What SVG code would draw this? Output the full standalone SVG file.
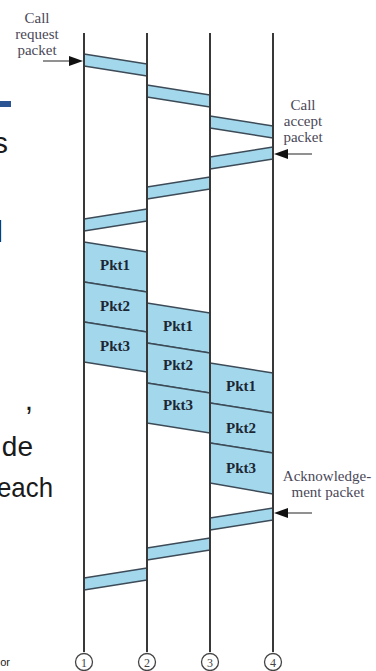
<svg xmlns="http://www.w3.org/2000/svg" width="376" height="671" viewBox="0 0 376 671">
<style>
.band{fill:#a3d8ec;stroke:#3c4b57;stroke-width:1.4;stroke-linejoin:round}
.life{stroke:#383838;stroke-width:2;fill:none}
.pkt{font-family:"Liberation Serif",serif;font-weight:bold;font-size:15px;fill:#1c2733;text-anchor:middle}
.lbl{font-family:"Liberation Serif",serif;font-size:15px;fill:#4a4858;text-anchor:middle}
.num{font-family:"Liberation Serif",serif;font-size:12px;fill:#444;text-anchor:middle}
.circ{fill:#fff;stroke:#444;stroke-width:1.3}
.arr{stroke:#555;stroke-width:1.3}
.slide{font-family:"Liberation Sans",sans-serif;fill:#1a1a1a}
</style>
<rect width="376" height="671" fill="#fff"/>
<g id="slide-text">
<rect x="0" y="101" width="11" height="6" fill="#2a5592"/>
<text class="slide" x="8" y="153" font-size="30" text-anchor="end">s</text>
<text class="slide" x="3" y="242" font-size="30" text-anchor="end">l</text>
<text class="slide" x="33" y="410" font-size="30" text-anchor="end">,</text>
<text class="slide" x="33" y="456" font-size="28" text-anchor="end">de</text>
<text class="slide" x="53" y="497" font-size="28" text-anchor="end" textLength="56" lengthAdjust="spacingAndGlyphs">each</text>
<text class="slide" x="10" y="666" font-size="11" text-anchor="end">or</text>
</g>
<g id="connectors">
<polygon class="band" points="84,54 147,64 147,76 84,66"/>
<polygon class="band" points="147,85 210,95 210,107 147,97"/>
<polygon class="band" points="210,116 273,126 273,138 210,128"/>
<polygon class="band" points="273,147 210,157 210,169 273,159"/>
<polygon class="band" points="210,177 147,187 147,199 210,189"/>
<polygon class="band" points="147,209 84,219 84,231 147,221"/>
<polygon class="band" points="84,242 147,252 147,292 84,282"/>
<polygon class="band" points="84,282 147,292 147,332 84,322"/>
<polygon class="band" points="84,322 147,332 147,372 84,362"/>
<polygon class="band" points="147,303 210,313 210,353 147,343"/>
<polygon class="band" points="147,343 210,353 210,393 147,383"/>
<polygon class="band" points="147,383 210,393 210,433 147,423"/>
<polygon class="band" points="210,363 273,373 273,413 210,403"/>
<polygon class="band" points="210,403 273,413 273,453 210,443"/>
<polygon class="band" points="210,443 273,453 273,494 210,483"/>
<polygon class="band" points="273,508 210,518 210,530 273,520"/>
<polygon class="band" points="210,538 147,548 147,560 210,550"/>
<polygon class="band" points="147,568 84,578 84,590 147,580"/>
<line class="arr" x1="43" y1="61" x2="72" y2="61"/>
<polygon points="83,61 69,56 69,66" fill="#111"/>
<line class="arr" x1="312" y1="154" x2="285" y2="154"/>
<polygon points="274,154 288,149 288,159" fill="#111"/>
<line class="arr" x1="312" y1="513" x2="285" y2="513"/>
<polygon points="274,513 288,508 288,518" fill="#111"/>
</g>
<g id="node1"><line class="life" x1="84" y1="33" x2="84" y2="652"/><circle class="circ" cx="84" cy="662" r="8.5"/><text class="num" x="84" y="666.5">1</text></g>
<g id="node2"><line class="life" x1="147" y1="33" x2="147" y2="652"/><circle class="circ" cx="147" cy="662" r="8.5"/><text class="num" x="147" y="666.5">2</text></g>
<g id="node3"><line class="life" x1="210" y1="33" x2="210" y2="652"/><circle class="circ" cx="210" cy="662" r="8.5"/><text class="num" x="210" y="666.5">3</text></g>
<g id="node4"><line class="life" x1="273" y1="33" x2="273" y2="652"/><circle class="circ" cx="273" cy="662" r="8.5"/><text class="num" x="273" y="666.5">4</text></g>
<g id="packets">
<text class="pkt" x="115" y="270">Pkt1</text>
<text class="pkt" x="115" y="311">Pkt2</text>
<text class="pkt" x="115" y="351">Pkt3</text>
<text class="pkt" x="178" y="331">Pkt1</text>
<text class="pkt" x="178" y="370">Pkt2</text>
<text class="pkt" x="178" y="410">Pkt3</text>
<text class="pkt" x="241" y="391">Pkt1</text>
<text class="pkt" x="241" y="433">Pkt2</text>
<text class="pkt" x="241" y="473">Pkt3</text>
</g>
<g id="label-request">
<text class="lbl" x="37" y="23">Call</text>
<text class="lbl" x="37" y="39">request</text>
<text class="lbl" x="37" y="55">packet</text>
</g>
<g id="label-accept">
<text class="lbl" x="303" y="110">Call</text>
<text class="lbl" x="303" y="126">accept</text>
<text class="lbl" x="303" y="142">packet</text>
</g>
<g id="label-ack">
<text class="lbl" x="327" y="481">Acknowledge-</text>
<text class="lbl" x="328" y="497">ment packet</text>
</g>
</svg>
